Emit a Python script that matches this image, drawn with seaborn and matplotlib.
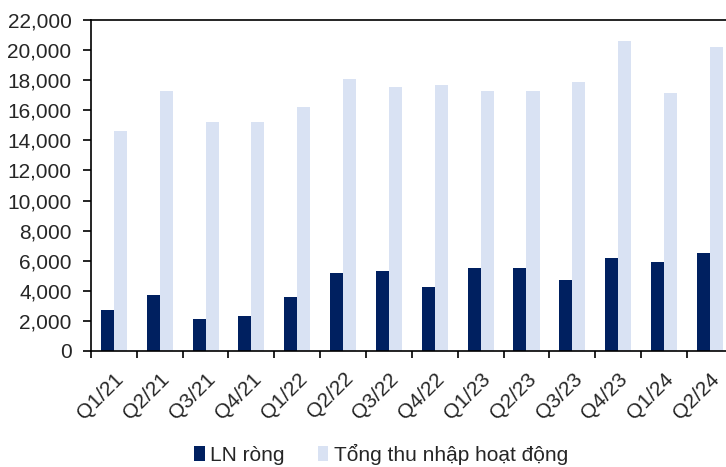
import numpy as np
import pandas as pd
import matplotlib
matplotlib.use("Agg")
import matplotlib.pyplot as plt
import seaborn as sns
from matplotlib.ticker import StrMethodFormatter

quarters = ['Q1/21', 'Q2/21', 'Q3/21', 'Q4/21', 'Q1/22', 'Q2/22', 'Q3/22',
            'Q4/22', 'Q1/23', 'Q2/23', 'Q3/23', 'Q4/23', 'Q1/24', 'Q2/24']
ln_rong = [2700, 3700, 2100, 2300, 3600, 5200, 5300,
           4250, 5550, 5500, 4700, 6150, 5900, 6500]
tong_thu_nhap = [14600, 17300, 15200, 15200, 16200, 18100, 17550,
                 17700, 17300, 17250, 17850, 20600, 17150, 20200]
series_names = ['LN ròng', 'Tổng thu nhập hoạt động']
colors = ['#002060', '#D9E2F3']

df = pd.DataFrame({
    'quarter': quarters * 2,
    'value': ln_rong + tong_thu_nhap,
    'series': [series_names[0]] * len(quarters) + [series_names[1]] * len(quarters),
})

sns.set_style('white')
plt.rcParams['font.family'] = ['Liberation Sans', 'DejaVu Sans']

fig = plt.figure(figsize=(7.26, 4.67), dpi=100)
ax = fig.add_axes([0.1253, 0.2484, 0.884, 0.7087])

sns.barplot(data=df, x='quarter', y='value', hue='series', palette=colors,
            width=0.57, linewidth=0, saturation=1, ax=ax)

ax.set_ylim(0, 22000)
ax.set_xlim(-0.5, 13.5)
ax.set_yticks(np.arange(0, 22001, 2000))
ax.yaxis.set_major_formatter(StrMethodFormatter('{x:,.0f}'))
ax.set_xlabel('')
ax.set_ylabel('')

# ticks sit on the category borders, labels on the centres
ax.set_xticks(np.arange(-0.5, 14, 1), minor=True)
ax.tick_params(axis='x', which='major', length=0, pad=13, labelsize=15)
ax.tick_params(axis='x', which='minor', length=5, width=1.2, color='black', bottom=True)
ax.tick_params(axis='y', length=6, width=1.2, color='black', left=True, labelsize=15, pad=8)
for lab in ax.get_xticklabels():
    lab.set_rotation(45)
    lab.set_ha('right')
    lab.set_rotation_mode('anchor')

for side in ['left', 'bottom', 'top', 'right']:
    ax.spines[side].set_color('black')
    ax.spines[side].set_linewidth(1.2)

handles, labels = ax.get_legend_handles_labels()
ax.get_legend().remove()
fig.legend(handles, labels, loc='lower center', bbox_to_anchor=(0.525, -0.035), ncol=2,
           frameon=False, fontsize=15, handlelength=0.5, handleheight=0.7,
           handletextpad=0.25, columnspacing=1.6)

fig.savefig('out.png', dpi=100)
